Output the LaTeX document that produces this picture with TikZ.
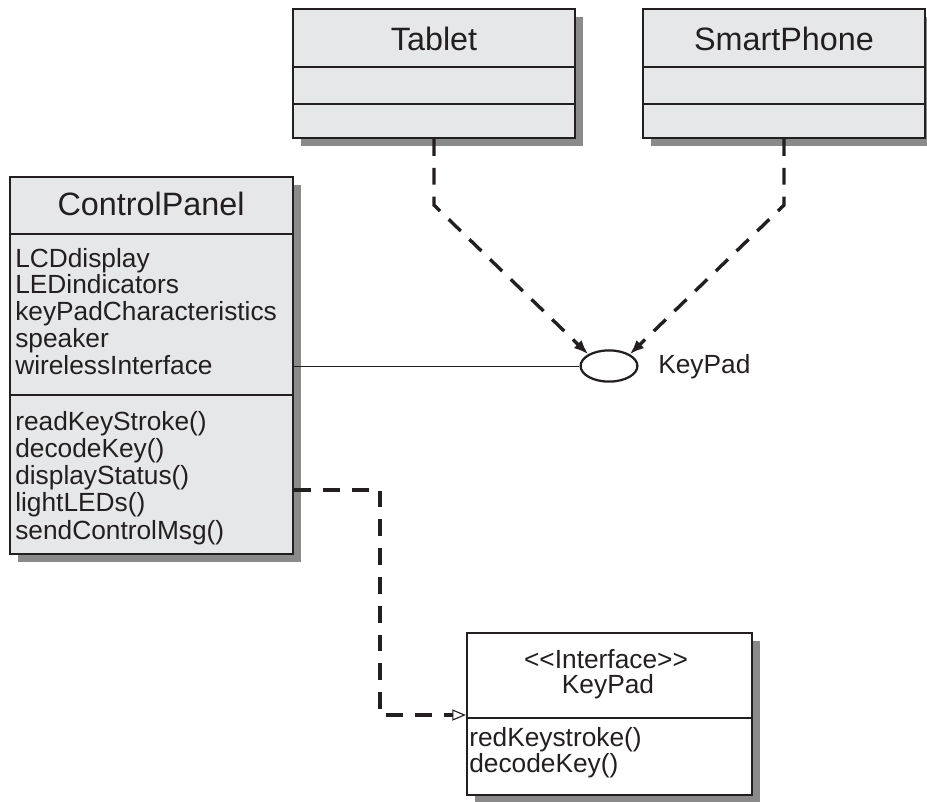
\documentclass[tikz,border=0pt]{standalone}
\usepackage{fontspec}
\setmainfont{Liberation Sans}
\usetikzlibrary{shapes.geometric,fit,shadows,arrows.meta}
\definecolor{boxgray}{RGB}{230,231,232}
\definecolor{shadowgray}{RGB}{138,138,138}
\definecolor{ink}{RGB}{35,31,32}
\newcommand{\titlefont}{\fontsize{23}{26}\selectfont}
\newcommand{\membfont}{\fontsize{18.7}{19}\selectfont}
\begin{document}
\begin{tikzpicture}[x=0.025cm,y=-0.025cm,
    classbox/.style={draw=ink, line width=1.6pt, fill=boxgray, inner sep=0pt,
      drop shadow={shadow xshift=0.2cm, shadow yshift=-0.2cm, fill=shadowgray, opacity=1}},
    sepline/.style={draw=ink, line width=1.1pt},
    titletext/.style={anchor=base, inner sep=0pt, font=\titlefont, text=ink},
    member/.style={anchor=base west, inner sep=0pt, font=\membfont, text=ink},
    depend/.style={draw=ink, line width=2.4pt, dash pattern=on 0.42cm off 0.3cm,
      -{Latex[length=0.36cm, width=0.28cm]}},
    realize/.style={draw=ink, line width=2.4pt, dash pattern=on 0.42cm off 0.3cm,
      -{Triangle[open, length=0.34cm, width=0.28cm, line width=0.8pt]}}]
    \useasboundingbox (0,0) rectangle (927,802);
    % classes
    \node[classbox, fit={(293,9) (575,138)}] (tablet) {};
    \node[classbox, fit={(643,9) (925,138)}] (phone) {};
    \node[classbox, fit={(10,177) (293,554)}] (cp) {};
    \node[classbox, fill=white, fit={(467,633) (752,795)}] (iface) {};
    \foreach \b\y in {tablet/67,tablet/104,phone/67,phone/104,cp/234,cp/395,iface/718} {
      \draw[sepline] (\b.west |- 0,\y) -- (\b.east |- 0,\y);
    }
    \node[titletext] (tablettitle) at (434,50) {Tablet};
    \node[titletext] (phonetitle) at (784,50) {SmartPhone};
    \node[titletext] (cptitle) at (151,215) {ControlPanel};
    \foreach \t [count=\i from 0] in {LCDdisplay,LEDindicators,keyPadCharacteristics,speaker,wirelessInterface}
      \node[member] (cpattr\i) at (15,267+26.8*\i) {\t};
    \foreach \t [count=\i from 0] in {readKeyStroke(),decodeKey(),displayStatus(),lightLEDs(),sendControlMsg()}
      \node[member] (cpop\i) at (15,430+27.3*\i) {\t};
    \node[member, anchor=base] (stereo) at (606,668) {{<}{<}Interface{>}{>}};
    \node[member, anchor=base] (ifacename) at (608,693) {KeyPad};
    \node[member] (ifop0) at (469,746) {redKeystroke()};
    \node[member] (ifop1) at (469,772) {decodeKey()};
    % provided interface
    \node[draw=ink, ellipse, line width=1.6pt, inner sep=0pt, minimum width=1.42cm, minimum height=0.78cm] (kp) at (609,366) {};
    \node[member] (kplabel) at (658,373) {KeyPad};
    % connectors
    \draw[ink, line width=0.7pt] (cp.east |- kp) -- (kp.west);
    \draw[depend] (tablet.south) -- ++(0,66) -- (kp.north west);
    \draw[depend] (phone.south) -- ++(0,66) -- (kp.north east);
    \coordinate (rbend) at (380,715);
    \draw[realize] (cp.east |- 0,490) -| (rbend) -- (iface.west |- rbend);
  \end{tikzpicture}
\end{document}
